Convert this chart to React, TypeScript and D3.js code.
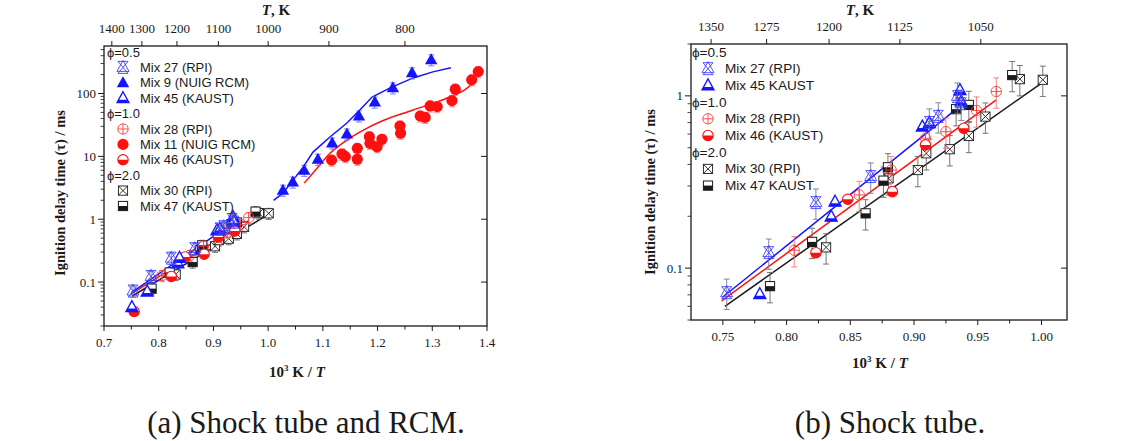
import * as d3 from "d3";

type Pt = [number, number];
type Kind = "xstar" | "triFill" | "triHalf" | "circPlus" | "circFill" | "circHalf" | "sqX" | "sqHalf";

// ---- measured data (10^3 K / T, ignition delay in ms) ----
// phi = 0.5
const mix27: Pt[] = [[0.753, 0.072], [0.786, 0.123], [0.823, 0.24], [0.866, 0.34], [0.912, 0.7], [0.919, 0.76], [0.934, 0.99], [0.937, 0.9]];
const mix9: Pt[] = [[1.027, 2.9], [1.045, 3.9], [1.066, 6.0], [1.091, 9.0], [1.117, 16.3], [1.144, 22.7], [1.166, 44], [1.195, 73], [1.228, 123], [1.263, 213], [1.298, 344]];
const mix45: Pt[] = [[0.751, 0.04], [0.779, 0.0706], [0.835, 0.199], [0.838, 0.243], [0.9065, 0.663], [0.912, 0.694], [0.936, 1.08], [0.937, 0.93]];
// phi = 1.0
const mix28: Pt[] = [[0.806, 0.127], [0.857, 0.266], [0.882, 0.371], [0.909, 0.568], [0.925, 0.62], [0.949, 0.822], [0.9645, 1.06]];
const mix11: Pt[] = [[1.116, 8.7], [1.135, 10.9], [1.141, 9.9], [1.163, 13.4], [1.163, 9.0], [1.185, 20.5], [1.186, 16.1], [1.199, 14.2], [1.208, 18.7], [1.241, 30.4], [1.242, 23.3], [1.278, 43.9], [1.287, 41.7], [1.296, 63.4], [1.309, 61.8], [1.336, 77], [1.342, 117], [1.372, 165], [1.384, 223]];
const mix46: Pt[] = [[0.755, 0.034], [0.823, 0.123], [0.848, 0.251], [0.883, 0.278], [0.909, 0.519], [0.939, 0.649]];
// phi = 2.0
const mix30: Pt[] = [[0.831, 0.132], [0.880, 0.332], [0.903, 0.371], [0.9096, 0.464], [0.928, 0.49], [0.943, 0.585], [0.956, 0.758], [0.983, 1.25], [1.001, 1.24]];
const mix47: Pt[] = [[0.787, 0.0786], [0.820, 0.142], [0.862, 0.208], [0.876, 0.322], [0.8795, 0.385], [0.933, 0.837], [0.943, 0.886], [0.977, 1.32]];

// ---- model curves ----
const simBlueST: Pt[] = [[0.75, 0.068], [0.94, 0.92]];
const simRedST: Pt[] = [[0.749, 0.0645], [0.9645, 0.948]];
const simBlackST: Pt[] = [[0.7516, 0.06], [1.0037, 1.24]];
const simBlueRCM: Pt[] = [[1.01, 2.0], [1.027, 2.6], [1.064, 6.75], [1.082, 11.7], [1.113, 20.3], [1.144, 34], [1.168, 55], [1.19, 88], [1.223, 123], [1.265, 177], [1.301, 221], [1.334, 256]];
const simRedRCM: Pt[] = [[1.066, 3.75], [1.089, 6.43], [1.113, 11.2], [1.144, 18.2], [1.174, 26.2], [1.205, 35.6], [1.265, 54.7], [1.326, 84], [1.363, 121], [1.381, 165]];

// ---- tick labels ----
const leftXTicks = [0.7, 0.8, 0.9, 1.0, 1.1, 1.2, 1.3, 1.4];
const leftTopT = [1400, 1300, 1200, 1100, 1000, 900, 800];
const leftYTicks = [0.1, 1, 10, 100];
const rightXTicks = [0.75, 0.8, 0.85, 0.9, 0.95, 1.0];
const rightTopT = [1350, 1275, 1200, 1125, 1050];
const rightYTicks = [0.1, 1];

const SERIF = "'Liberation Serif', 'Times New Roman', serif";
const SANS = "'Liberation Sans', Arial, sans-serif";
const BLUE = "#1414ff";
const RED = "#ff1010";
const INK = "#1a1a1a";

function Marker({ kind, x, y }: { kind: Kind; x: number; y: number }) {
  const t = `translate(${x},${y})`;
  switch (kind) {
    case "xstar":
      return (
        <g transform={t} stroke="#3535ff" strokeWidth={0.85} fill="none">
          <path d="M-5,-6L5,6M5,-6L-5,6M-5,-6H5M-5,6H5M0,-7L-6,4H6Z" />
        </g>
      );
    case "triFill":
      return <path transform={t} d="M0,-6.5L6.2,4.5H-6.2Z" fill={BLUE} />;
    case "triHalf":
      return (
        <g transform={t}>
          <path d="M0,-6.5L6,4.5H-6Z" fill="#fff" stroke={BLUE} strokeWidth={1.3} />
          <path d="M-4.3,1.5H4.3L6,4.5H-6Z" fill={BLUE} />
        </g>
      );
    case "circPlus":
      return (
        <g transform={t} stroke="#ff3535" strokeWidth={0.85} fill="none">
          <circle r={5.2} />
          <path d="M-5.2,0H5.2M0,-5.2V5.2" />
        </g>
      );
    case "circFill":
      return <circle transform={t} r={5.6} fill={RED} />;
    case "circHalf":
      return (
        <g transform={t}>
          <circle r={5.2} fill="#fff" stroke={RED} strokeWidth={1.1} />
          <path d="M-5.2,0A5.2,5.2 0 0 0 5.2,0Z" fill={RED} />
        </g>
      );
    case "sqX":
      return (
        <g transform={t} stroke={INK} strokeWidth={0.9}>
          <rect x={-4.6} y={-4.6} width={9.2} height={9.2} fill="#fff" />
          <path d="M-4.6,-4.6L4.6,4.6M4.6,-4.6L-4.6,4.6" />
        </g>
      );
    default:
      return (
        <g transform={t}>
          <rect x={-4.6} y={-4.6} width={9.2} height={9.2} fill="#fff" stroke={INK} strokeWidth={1} />
          <rect x={-4.6} y={0} width={9.2} height={4.6} fill={INK} />
        </g>
      );
  }
}

type Series = { pts: Pt[]; kind: Kind; err?: string };
type Curve = { pts: Pt[]; color: string; smooth?: boolean };
type LegendRow = { head?: string; kind?: Kind; label?: string };

const stSeries: Series[] = [
  { pts: mix30, kind: "sqX", err: "#666" },
  { pts: mix47, kind: "sqHalf", err: "#666" },
  { pts: mix28, kind: "circPlus", err: "#f07878" },
  { pts: mix46, kind: "circHalf" },
  { pts: mix45, kind: "triHalf" },
  { pts: mix27, kind: "xstar", err: "#7a7a8a" },
];
const rcmSeries: Series[] = [
  { pts: mix11, kind: "circFill", err: "#ff8080" },
  { pts: mix9, kind: "triFill", err: "#7070ff" },
];
const stCurves: Curve[] = [
  { pts: simBlackST, color: INK },
  { pts: simRedST, color: RED },
  { pts: simBlueST, color: BLUE },
];
const rcmCurves: Curve[] = [
  { pts: simBlueRCM, color: BLUE },
  { pts: simRedRCM, color: RED, smooth: true },
];

const leftLegend: LegendRow[] = [
  { head: "ϕ=0.5" },
  { kind: "xstar", label: "Mix 27 (RPI)" },
  { kind: "triFill", label: "Mix 9 (NUIG RCM)" },
  { kind: "triHalf", label: "Mix 45 (KAUST)" },
  { head: "ϕ=1.0" },
  { kind: "circPlus", label: "Mix 28 (RPI)" },
  { kind: "circFill", label: "Mix 11 (NUIG RCM)" },
  { kind: "circHalf", label: "Mix 46 (KAUST)" },
  { head: "ϕ=2.0" },
  { kind: "sqX", label: "Mix 30 (RPI)" },
  { kind: "sqHalf", label: "Mix 47 (KAUST)" },
];
const rightLegend: LegendRow[] = [
  { head: "ϕ=0.5" },
  { kind: "xstar", label: "Mix 27 (RPI)" },
  { kind: "triHalf", label: "Mix 45 KAUST" },
  { head: "ϕ=1.0" },
  { kind: "circPlus", label: "Mix 28 (RPI)" },
  { kind: "circHalf", label: "Mix 46 (KAUST)" },
  { head: "ϕ=2.0" },
  { kind: "sqX", label: "Mix 30 (RPI)" },
  { kind: "sqHalf", label: "Mix 47 KAUST" },
];

type PanelProps = {
  id: string;
  rect: [number, number, number, number];
  xDomain: [number, number];
  yDomain: [number, number];
  xTicks: number[];
  xFmt: string;
  topT: number[];
  yTicks: number[];
  series: Series[];
  curves: Curve[];
  legend: LegendRow[];
  leg: { x: number; y: number; step: number; size: number };
  yTitle: [number, number];
  xTitle: [number, number];
  tTitle: [number, number];
};

function Panel(p: PanelProps) {
  const [x0, y0, x1, y1] = p.rect;
  const x = d3.scaleLinear().domain(p.xDomain).range([x0, x1]);
  const y = d3.scaleLog().domain(p.yDomain).range([y1, y0]);
  const line = d3.line<Pt>().x((d) => x(d[0])).y((d) => y(d[1]));
  const smoothLine = d3.line<Pt>().x((d) => x(d[0])).y((d) => y(d[1])).curve(d3.curveMonotoneX);
  const xMinor = d3.pairs(p.xTicks).map(([a, b]) => (a + b) / 2);
  const yMinor = y.ticks().filter((v) => Math.abs(Math.log10(v) - Math.round(Math.log10(v))) > 1e-6);
  const fmt = d3.format(p.xFmt);
  const tickFont = { fontFamily: SERIF, fontSize: 13, fill: INK };

  return (
    <g>
      <defs>
        <clipPath id={p.id}>
          <rect x={x0} y={y0} width={x1 - x0} height={y1 - y0} />
        </clipPath>
      </defs>
      <g clipPath={`url(#${p.id})`}>
        {p.curves.map((c, i) => (
          <path key={i} d={(c.smooth ? smoothLine : line)(c.pts) ?? ""} fill="none" stroke={c.color} strokeWidth={1.5} />
        ))}
        {p.series.map((s, i) => (
          <g key={i}>
            {s.err &&
              s.pts.map((d, j) => {
                const cx = x(d[0]);
                const ya = y(d[1] * 1.2);
                const yb = y(d[1] * 0.8);
                return (
                  <path key={j} d={`M${cx},${ya}V${yb}M${cx - 3},${ya}H${cx + 3}M${cx - 3},${yb}H${cx + 3}`} stroke={s.err} strokeWidth={0.9} fill="none" />
                );
              })}
            {s.pts.map((d, j) => (
              <Marker key={j} kind={s.kind} x={x(d[0])} y={y(d[1])} />
            ))}
          </g>
        ))}
      </g>
      <rect x={x0} y={y0} width={x1 - x0} height={y1 - y0} fill="none" stroke={INK} strokeWidth={1.3} />
      {/* bottom axis */}
      {p.xTicks.map((v) => (
        <g key={v}>
          <line x1={x(v)} x2={x(v)} y1={y1} y2={y1 + 5} stroke={INK} />
          <text x={x(v)} y={y1 + 21} textAnchor="middle" {...tickFont}>{fmt(v)}</text>
        </g>
      ))}
      {xMinor.map((v) => (
        <line key={v} x1={x(v)} x2={x(v)} y1={y1} y2={y1 + 3.5} stroke={INK} />
      ))}
      {/* top temperature axis */}
      {p.topT.map((T) => (
        <g key={T}>
          <line x1={x(1000 / T)} x2={x(1000 / T)} y1={y0 - 5} y2={y0} stroke={INK} />
          <text x={x(1000 / T)} y={y0 - 13} textAnchor="middle" {...tickFont}>{T}</text>
        </g>
      ))}
      {/* left / right axes */}
      {p.yTicks.map((v) => (
        <g key={v}>
          <line x1={x0 - 6} x2={x0} y1={y(v)} y2={y(v)} stroke={INK} />
          <line x1={x1 - 6} x2={x1} y1={y(v)} y2={y(v)} stroke={INK} />
          <text x={x0 - 8} y={y(v) + 4.5} textAnchor="end" {...tickFont}>{v}</text>
        </g>
      ))}
      {yMinor.map((v) => (
        <line key={v} x1={x0 - 3.5} x2={x0} y1={y(v)} y2={y(v)} stroke={INK} strokeWidth={0.8} />
      ))}
      {/* legend */}
      {p.legend.map((r, i) => {
        const ly = p.leg.y + i * p.leg.step;
        return r.head ? (
          <text key={i} x={p.leg.x} y={ly} dominantBaseline="central" fontFamily={SANS} fontSize={p.leg.size} fill={INK}>{r.head}</text>
        ) : (
          <g key={i}>
            <Marker kind={r.kind!} x={p.leg.x + 16} y={ly} />
            <text x={p.leg.x + 33} y={ly} dominantBaseline="central" fontFamily={SANS} fontSize={p.leg.size} fill={INK}>{r.label}</text>
          </g>
        );
      })}
      {/* titles */}
      <text transform={`translate(${p.yTitle[0]},${p.yTitle[1]}) rotate(-90)`} textAnchor="middle" dominantBaseline="central" fontFamily={SERIF} fontWeight="bold" fontSize={14.5} fill={INK}>
        Ignition delay time (τ) / ms
      </text>
      <text x={p.xTitle[0]} y={p.xTitle[1]} textAnchor="middle" fontFamily={SERIF} fontWeight="bold" fontSize={15} fill={INK}>
        <tspan>10</tspan>
        <tspan fontSize={9} dy={-6}>3</tspan>
        <tspan dy={6}> K / </tspan>
        <tspan fontStyle="italic">T</tspan>
      </text>
      <text x={p.tTitle[0]} y={p.tTitle[1]} textAnchor="middle" fontFamily={SERIF} fontWeight="bold" fontSize={15} fill={INK}>
        <tspan fontStyle="italic">T</tspan>
        <tspan>, K</tspan>
      </text>
    </g>
  );
}

export default function App() {
  return (
    <svg width={1133} height={441} style={{ position: "absolute", left: 0, top: 0, background: "#fff" }}>
      <rect width={1133} height={441} fill="#fff" />
      <Panel
        id="clipA"
        rect={[104, 46, 487, 326]}
        xDomain={[0.7, 1.4]}
        yDomain={[0.02, 570]}
        xTicks={leftXTicks}
        xFmt=".1f"
        topT={leftTopT}
        yTicks={leftYTicks}
        series={[...stSeries, ...rcmSeries]}
        curves={[...stCurves, ...rcmCurves]}
        legend={leftLegend}
        leg={{ x: 107, y: 52, step: 15.4, size: 13 }}
        yTitle={[60, 193]}
        xTitle={[297, 377]}
        tTitle={[276, 15]}
      />
      <Panel
        id="clipB"
        rect={[691, 44, 1067, 320]}
        xDomain={[0.725, 1.02]}
        yDomain={[0.05, 2]}
        xTicks={rightXTicks}
        xFmt=".2f"
        topT={rightTopT}
        yTicks={rightYTicks}
        series={stSeries}
        curves={stCurves}
        legend={rightLegend}
        leg={{ x: 692, y: 52, step: 16.7, size: 13.6 }}
        yTitle={[650, 192]}
        xTitle={[880, 368]}
        tTitle={[860, 15]}
      />
      <text x={306} y={433} textAnchor="middle" fontFamily={SERIF} fontSize={31} fill={INK}>(a) Shock tube and RCM.</text>
      <text x={890} y={433} textAnchor="middle" fontFamily={SERIF} fontSize={31} fill={INK}>(b) Shock tube.</text>
    </svg>
  );
}
